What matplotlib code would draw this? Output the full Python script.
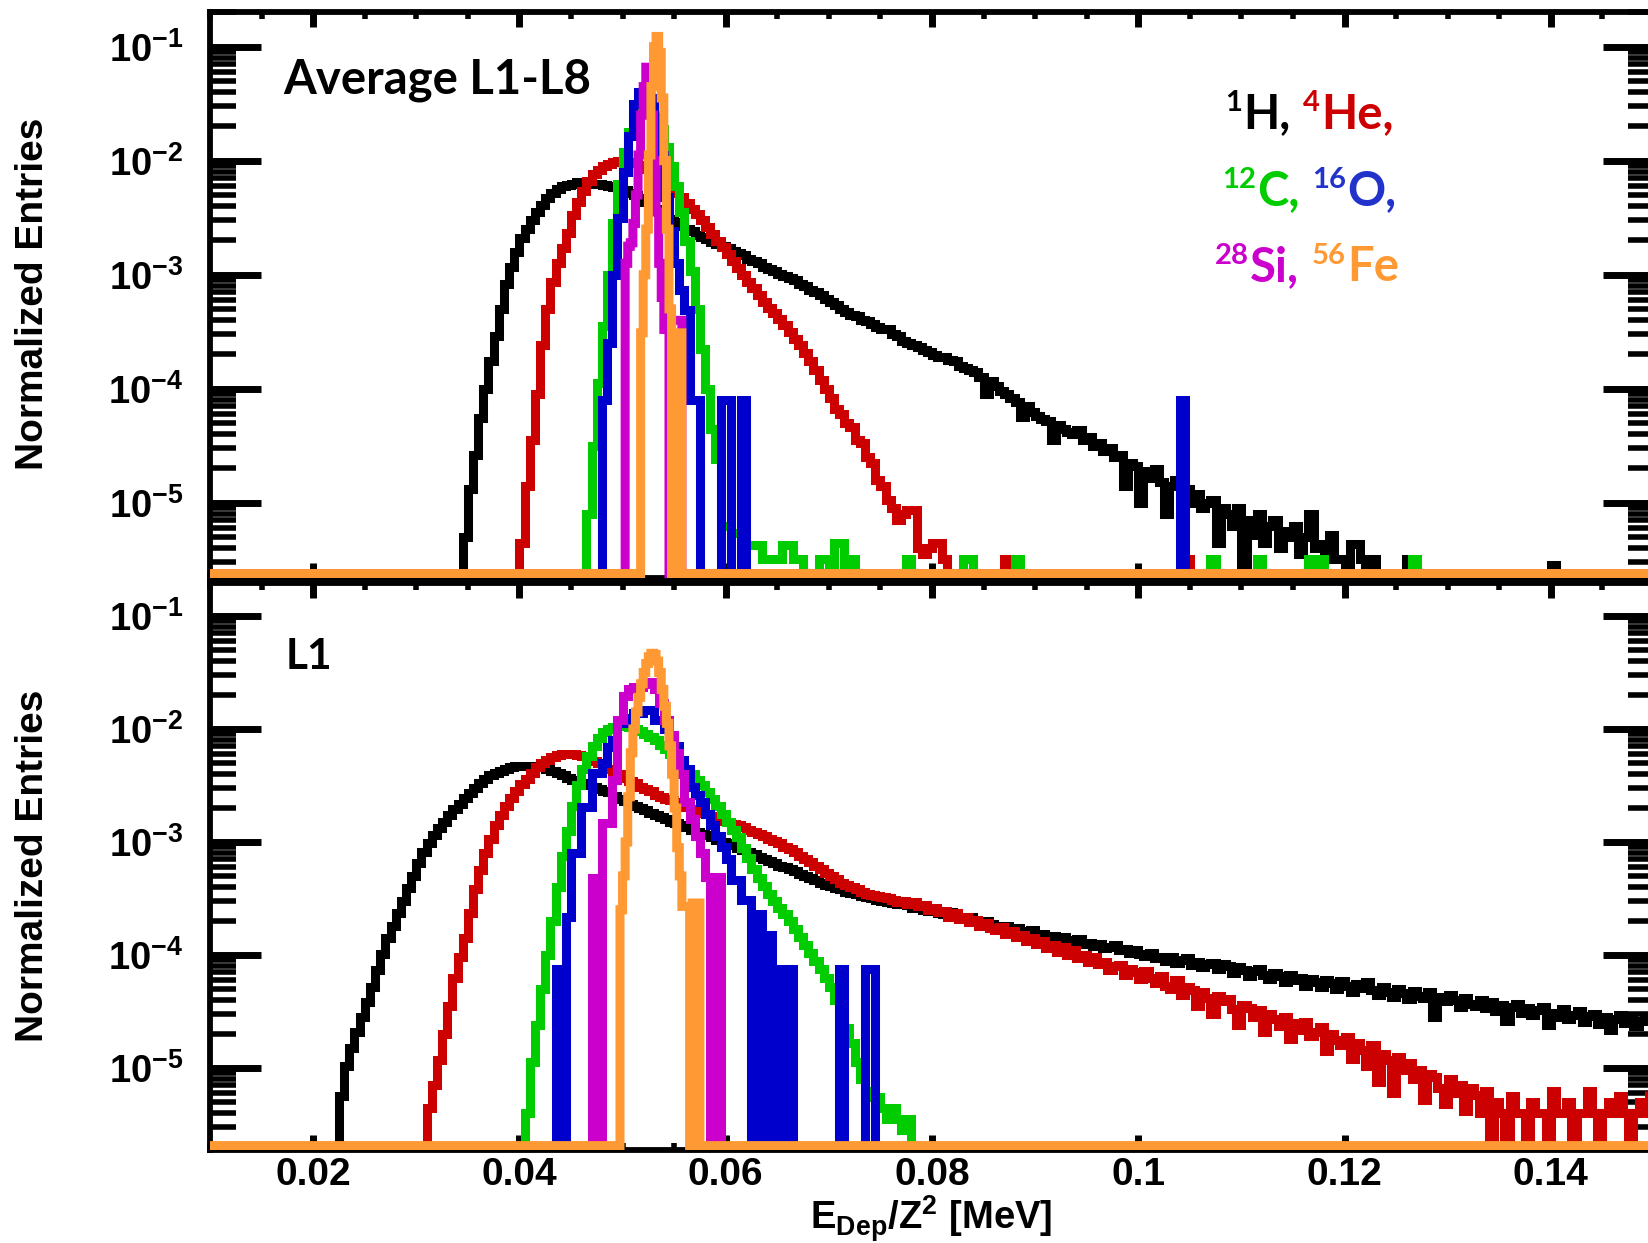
import numpy as np
import matplotlib
matplotlib.use("Agg")
import matplotlib.pyplot as plt
from matplotlib.ticker import FixedLocator, MultipleLocator, LogLocator, FuncFormatter, NullFormatter

# bin widths [MeV]
BW = 0.0005
BW_FINE = 0.00025

# ---------------- Average L1-L8 (top panel) ----------------
# values are log10(normalized entries) per bin, None = empty bin
h_avg_x0 = 0.0345
h_avg_log = [
    -5.30, -4.88, -4.58, -4.26, -4.00, -3.76, -3.54, -3.30, -3.08, -2.93,
    -2.80, -2.68, -2.60, -2.52, -2.45, -2.39, -2.33, -2.28, -2.25, -2.22,
    -2.21, -2.20, -2.19, -2.19, -2.19, -2.20, -2.20, -2.21, -2.22, -2.23,
    -2.25, -2.26, -2.28, -2.30, -2.33, -2.36, -2.39, -2.42, -2.45, -2.48,
    -2.51, -2.54, -2.57, -2.60, -2.62, -2.65, -2.67, -2.69, -2.71, -2.73,
    -2.75, -2.77, -2.79, -2.81, -2.83, -2.86, -2.88, -2.90, -2.93, -2.95,
    -2.97, -2.99, -3.01, -3.03, -3.05, -3.08, -3.10, -3.13, -3.15, -3.18,
    -3.21, -3.24, -3.27, -3.30, -3.33, -3.35, -3.36, -3.40, -3.41, -3.43,
    -3.46, -3.48, -3.48, -3.52, -3.54, -3.58, -3.60, -3.62, -3.63, -3.66,
    -3.68, -3.70, -3.72, -3.72, -3.75, -3.76, -3.80, -3.82, -3.84, -3.85,
    -3.90, -4.05, -3.93, -3.98, -4.02, -4.05, -4.08, -4.12, -4.25, -4.15,
    -4.20, -4.24, -4.27, -4.28, -4.45, -4.32, -4.35, -4.38, -4.40, -4.36,
    -4.45, -4.42, -4.50, -4.48, -4.55, -4.52, -4.60, -4.58, -4.85, -4.65,
    -4.68, -5.00, -4.72, -4.78, -4.70, -4.82, -5.10, -4.85, -4.80, -4.95,
    -4.88, -5.00, -4.92, -5.05, -5.00, -4.98, -5.35, -5.05, -5.10, -5.20,
    -5.05, None, -5.15, -5.28, -5.10, -5.35, -5.20, -5.15, -5.40, -5.25,
    -5.30, -5.20, -5.45, -5.30, -5.10, -5.40, -5.36, -5.49, -5.28, -5.49,
    -5.49, None, -5.36, -5.36, -5.49, None, -5.49, None, None, None,
    None, None, None, -5.49,
]
h_avg_extra = [(0.1400, -5.55)]

he_avg_x0 = 0.0400
he_avg_log = [
    -5.35, -4.85, -4.45, -4.05, -3.62, -3.30, -3.06, -2.90, -2.77, -2.63,
    -2.48, -2.36, -2.27, -2.18, -2.12, -2.08, -2.05, -2.03, -2.01, -2.00,
    -2.00, -2.01, -2.02, -2.04, -2.07, -2.10, -2.13, -2.17, -2.20, -2.24,
    -2.28, -2.32, -2.37, -2.42, -2.47, -2.52, -2.58, -2.64, -2.70, -2.76,
    -2.82, -2.88, -2.94, -3.00, -3.06, -3.12, -3.18, -3.24, -3.29, -3.34,
    -3.39, -3.44, -3.50, -3.56, -3.62, -3.69, -3.76, -3.84, -3.92, -4.00,
    -4.08, -4.18, -4.22, -4.30, -4.34, -4.45, -4.48, -4.60, -4.65, -4.80,
    -4.85, -4.98, -5.05, -5.15, -5.10, -5.06, -5.06, -5.40, -5.45, -5.40,
    -5.35, -5.35, -5.49,
]
he_avg_extra = [(0.0870, -5.49), (0.1045, -5.49)]

c_avg_x0 = 0.0465
c_avg_log = [
    -5.10, -4.50, -3.95, -3.45, -3.00, -2.55, -2.20, -1.92, -1.75, -1.62,
    -1.55, -1.52, -1.53, -1.60, -1.72, -1.88, -2.05, -2.22, -2.45, -2.70,
    -2.97, -3.30, -3.65, -4.00, -4.35, -4.62, -5.20, -5.20, -5.27, -5.27,
    -5.27, -5.37, -5.37, -5.37, -5.49, -5.49, -5.49, -5.49, -5.37, -5.37,
    -5.49, -5.49,
]
c_avg_extra = [(0.0690, -5.49), (0.0695, -5.49), (0.0705, -5.35), (0.0710, -5.35),
               (0.0720, -5.49), (0.0775, -5.49), (0.0830, -5.49), (0.0835, -5.49),
               (0.0880, -5.49), (0.1070, -5.49), (0.1115, -5.49), (0.1165, -5.49),
               (0.1175, -5.49), (0.1265, -5.49)]

o_avg_x0 = 0.0480
o_avg_log = [
    -4.10, -3.60, -3.00, -2.50, -2.10, -1.78, -1.50, -1.40, -1.37, -1.45,
    -1.62, -1.95, -2.32, -2.62, -2.90, -3.13, -3.31, -4.10, -4.10, None,
    None, None, None, -4.10, -4.10, None, None, -4.10,
]
o_avg_extra = [(0.1040, -4.10)]

si_avg_x0 = 0.05025
si_avg_log = [
    -2.90, -2.75, -2.72, -2.55, -2.30, -1.95, -1.60, -1.35, -1.18, -1.25,
    -1.60, -2.00, -2.45, -2.90, -3.20, -3.48, -3.48, None, -3.40, -3.40,
    -3.40, -3.40,
]

fe_avg_x0 = 0.05175
fe_avg_log = [
    -3.51, -3.00, -2.60, -1.95, -1.35, -1.00, -0.91, -1.05, -1.45, -2.00,
    -2.60, -3.30, None, None, None, -3.51,
]

# ---------------- L1 (bottom panel) ----------------
h_l1_x0 = 0.0225
h_l1_log = [
    -5.25, -4.98, -4.82, -4.68, -4.55, -4.42, -4.28, -4.13, -3.99, -3.85,
    -3.74, -3.63, -3.52, -3.41, -3.30, -3.19, -3.09, -3.01, -2.94, -2.88,
    -2.82, -2.76, -2.71, -2.66, -2.61, -2.57, -2.52, -2.48, -2.44, -2.41,
    -2.39, -2.37, -2.35, -2.34, -2.33, -2.33, -2.33, -2.33, -2.33, -2.34,
    -2.35, -2.37, -2.39, -2.41, -2.43, -2.45, -2.46, -2.48, -2.50, -2.51,
    -2.53, -2.55, -2.56, -2.59, -2.62, -2.64, -2.66, -2.68, -2.70, -2.72,
    -2.74, -2.76, -2.78, -2.80, -2.82, -2.83, -2.85, -2.87, -2.89, -2.91,
    -2.93, -2.94, -2.96, -2.98, -3.00, -3.01, -3.03, -3.05, -3.07, -3.09,
    -3.11, -3.13, -3.15, -3.17, -3.19, -3.21, -3.22, -3.24, -3.26, -3.28,
    -3.30, -3.32, -3.34, -3.36, -3.38, -3.39, -3.41, -3.42, -3.44, -3.45,
    -3.46, -3.48, -3.49, -3.50, -3.51, -3.52, -3.53, -3.54, -3.55, -3.55,
    -3.56, -3.58, -3.57, -3.60, -3.61, -3.60, -3.63, -3.64, -3.62, -3.66,
    -3.67, -3.68, -3.66, -3.70, -3.71, -3.70, -3.73, -3.74, -3.76, -3.74,
    -3.77, -3.76, -3.79, -3.80, -3.78, -3.82, -3.81, -3.84, -3.83, -3.86,
    -3.84, -3.87, -3.88, -3.86, -3.90, -3.89, -3.92, -3.90, -3.94, -3.93,
    -3.91, -3.96, -3.95, -3.98, -3.96, -3.99, -4.01, -3.98, -4.03, -4.02,
    -4.05, -4.02, -4.07, -4.04, -4.03, -4.09, -4.06, -4.11, -4.08, -4.07,
    -4.12, -4.08, -4.10, -4.16, -4.11, -4.13, -4.19, -4.14, -4.12, -4.18,
    -4.21, -4.16, -4.19, -4.24, -4.18, -4.22, -4.20, -4.27, -4.21, -4.24,
    -4.28, -4.22, -4.25, -4.30, -4.23, -4.27, -4.33, -4.26, -4.29, -4.24,
    -4.31, -4.35, -4.28, -4.33, -4.37, -4.30, -4.34, -4.39, -4.32, -4.36,
    -4.38, -4.33, -4.55, -4.37, -4.41, -4.35, -4.40, -4.46, -4.38, -4.43,
    -4.45, -4.40, -4.47, -4.42, -4.50, -4.44, -4.58, -4.46, -4.43, -4.51,
    -4.47, -4.53, -4.49, -4.46, -4.62, -4.51, -4.55, -4.48, -4.57, -4.53,
    -4.50, -4.59, -4.54, -4.52, -4.61, -4.55, -4.66, -4.57, -4.53, -4.60,
    -4.56, -4.63, -4.58, -4.54, -4.62,
]

he_l1_x0 = 0.0310
he_l1_log = [
    -5.35, -5.15, -4.93, -4.70, -4.45, -4.20, -4.02, -3.85, -3.63, -3.42,
    -3.25, -3.10, -2.97, -2.85, -2.76, -2.68, -2.61, -2.55, -2.49, -2.44,
    -2.39, -2.34, -2.30, -2.27, -2.25, -2.23, -2.22, -2.22, -2.22, -2.23,
    -2.24, -2.26, -2.28, -2.30, -2.32, -2.35, -2.37, -2.40, -2.43, -2.46,
    -2.48, -2.51, -2.53, -2.55, -2.58, -2.60, -2.62, -2.63, -2.65, -2.67,
    -2.69, -2.71, -2.72, -2.74, -2.75, -2.77, -2.79, -2.81, -2.82, -2.84,
    -2.85, -2.87, -2.89, -2.91, -2.93, -2.95, -2.97, -2.99, -3.01, -3.04,
    -3.06, -3.09, -3.12, -3.15, -3.18, -3.21, -3.24, -3.27, -3.30, -3.33,
    -3.36, -3.38, -3.40, -3.42, -3.44, -3.46, -3.47, -3.48, -3.49, -3.50,
    -3.51, -3.53, -3.52, -3.55, -3.53, -3.57, -3.56, -3.60, -3.58, -3.62,
    -3.61, -3.66, -3.63, -3.68, -3.66, -3.71, -3.69, -3.74, -3.72, -3.76,
    -3.78, -3.75, -3.81, -3.79, -3.84, -3.82, -3.88, -3.85, -3.90, -3.88,
    -3.94, -3.91, -3.97, -3.93, -4.00, -3.96, -4.03, -4.00, -4.06, -4.02,
    -4.08, -4.06, -4.13, -4.10, -4.09, -4.18, -4.12, -4.15, -4.21, -4.14,
    -4.20, -4.25, -4.19, -4.27, -4.30, -4.22, -4.35, -4.28, -4.31, -4.45,
    -4.33, -4.38, -4.52, -4.36, -4.41, -4.39, -4.48, -4.62, -4.44, -4.47,
    -4.55, -4.49, -4.68, -4.52, -4.57, -4.63, -4.55, -4.74, -4.60, -4.66,
    -4.59, -4.72, -4.68, -4.64, -4.85, -4.70, -4.75, -4.80, -4.73, -4.92,
    -4.78, -4.84, -4.98, -4.80, -5.12, -4.88, -4.93, -5.22, -4.90, -5.02,
    -4.96, -5.10, -5.02, -5.28, -5.05, -5.08, -5.18, -5.32, -5.10, -5.22,
    -5.15, -5.38, -5.18, -5.24, -5.40, -5.20, None, -5.30, -5.40, None,
    -5.25, -5.40, -5.40, None, -5.30, -5.40, -5.40, None, -5.20, -5.40,
    -5.40, -5.30, None, -5.40, -5.40, -5.20, -5.40, None, -5.40, -5.30,
    -5.40, -5.25, -5.40, None, -5.40, -5.30, -5.40, -5.20,
]

c_l1_x0 = 0.0405
c_l1_log = [
    -5.40, -4.95, -4.62, -4.30, -4.00, -3.70, -3.40, -3.12, -2.90, -2.68,
    -2.50, -2.35, -2.24, -2.15, -2.08, -2.03, -2.00, -1.98, -1.97, -1.97,
    -1.98, -2.00, -2.02, -2.04, -2.07, -2.10, -2.14, -2.18, -2.22, -2.26,
    -2.30, -2.35, -2.40, -2.45, -2.50, -2.56, -2.62, -2.68, -2.75, -2.82,
    -2.89, -2.96, -3.05, -3.14, -3.24, -3.32, -3.39, -3.46, -3.52, -3.58,
    -3.64, -3.70, -3.77, -3.84, -3.91, -3.98, -4.05, -4.12, -4.20, -4.28,
    -4.40, -4.52, -4.65, -4.78, -4.95, -5.10, -5.20, -5.26, -5.26, -5.35,
    -5.45, -5.35, -5.45, -5.55, -5.45,
]

o_l1_x0 = 0.0435
o_l1_log = [
    -4.12, None, -3.66, -3.10, -3.10, -2.69, -2.69, -2.39, -2.39, -2.30,
    -2.16, -2.10, -1.95, -1.95, -1.90, -1.86, -1.86, -1.83, -1.83, -1.92,
    -1.92, -2.00, -2.07, -2.15, -2.27, -2.35, -2.51, -2.58, -2.65, -2.75,
    -2.85, -2.95, -3.04, -3.15, -3.34, -3.34, -3.51, -3.51, None, -3.64,
    None, -3.82, None, -4.12, None, -4.12,
]
o_l1_extra = [(0.0710, -4.12), (0.0735, -4.12), (0.0740, -4.12)]

si_l1_x0 = 0.0470
si_l1_log = [
    -3.32, None, -2.83, -2.83, -2.45, -1.92, -1.71, -1.65, -1.63, -1.63,
    -1.60, -1.58, -1.65, -1.77, -1.92, -2.05, -2.21, -2.40, -2.65, -2.80,
    -2.95, -3.10, -3.31, None, -3.31,
]

fe_l1_x0 = 0.04975
fe_l1_log = [
    -3.60, -3.30, -3.00, -2.60, -2.21, -2.00, -1.85, -1.72, -1.60, -1.50,
    -1.42, -1.36, -1.33, -1.34, -1.40, -1.50, -1.65, -1.80, -1.95, -2.15,
    -2.40, -2.70, -3.05, -3.30, -3.57, -3.57, -3.57, None, -3.54, -3.54,
    -3.54,
]

x_ticks = [0.02, 0.04, 0.06, 0.08, 0.10, 0.12, 0.14]

# ---------------- style ----------------
C_H, C_HE, C_C, C_O, C_SI, C_FE = "#000000", "#cc0000", "#00cc00", "#0000cc", "#cc00cc", "#ff9933"
C_O_TXT = "#2233cc"

W, H, DPI = 1649, 1243, 100
XMIN, XMAX = 0.01, 0.15
LEFT_PX, RIGHT_PX = 210, 1654
LW = 6.5

plt.rcParams["font.family"] = ["Liberation Sans", "DejaVu Sans"]
plt.rcParams["font.weight"] = "bold"
plt.rcParams["mathtext.fontset"] = "custom"
plt.rcParams["mathtext.rm"] = "Liberation Sans:bold"
plt.rcParams["mathtext.bf"] = "Liberation Sans:bold"
plt.rcParams["mathtext.it"] = "Liberation Sans:bold"


def build(x0, bw, logs, extra, floor_log):
    # full histogram over the x range, empty bins sit on the floor
    n = int(round((XMAX - XMIN) / bw))
    edges = XMIN + bw * np.arange(n + 1)
    y = np.full(n, floor_log)
    i0 = int(round((x0 - XMIN) / bw))
    for k, v in enumerate(logs):
        if v is not None:
            y[i0 + k] = v
    for xe, v in extra:
        y[int(round((xe - XMIN) / bw))] = v
    return edges, 10.0 ** y


def setup_axes(ax, ylog_lo, ylog_hi, show_xlabels):
    ax.set_yscale("log")
    ax.set_xlim(XMIN, XMAX)
    ax.set_ylim(10 ** ylog_lo, 10 ** ylog_hi)
    ax.xaxis.set_major_locator(FixedLocator(x_ticks))
    ax.xaxis.set_minor_locator(MultipleLocator(0.005))
    ax.yaxis.set_major_locator(LogLocator(base=10, numticks=30))
    ax.yaxis.set_minor_locator(LogLocator(base=10, subs=np.arange(2, 10), numticks=30))
    ax.yaxis.set_minor_formatter(NullFormatter())
    ax.yaxis.set_major_formatter(FuncFormatter(
        lambda v, p: r"$\mathbf{10^{%d}}$" % int(round(np.log10(v)))))
    ax.xaxis.set_major_formatter(FuncFormatter(lambda v, p: "%g" % v))
    ax.tick_params(axis="x", which="major", direction="in", length=11, width=5,
                   top=True, bottom=True, labelsize=28, pad=5, labelbottom=show_xlabels)
    ax.tick_params(axis="x", which="minor", direction="in", length=5, width=4,
                   top=True, bottom=True)
    ax.tick_params(axis="y", which="major", direction="in", length=37, width=5,
                   left=True, right=True, labelsize=27.5, pad=19)
    ax.tick_params(axis="y", which="minor", direction="in", length=19, width=4,
                   left=True, right=True)
    for s in ax.spines.values():
        s.set_linewidth(4.2)
        s.set_zorder(1)
    ax.set_axisbelow(True)


def draw_panel(ax, series, ylog_lo):
    floor_log = ylog_lo + 0.039
    for x0, bw, logs, extra, col in series:
        edges, vals = build(x0, bw, logs, extra, floor_log)
        ax.stairs(vals, edges, baseline=None, color=col, lw=LW, zorder=3, joinstyle="miter")


fig = plt.figure(figsize=(W / DPI, H / DPI), dpi=DPI)


def px_axes(top_px, bottom_px):
    return fig.add_axes([LEFT_PX / W, 1 - bottom_px / H,
                         (RIGHT_PX - LEFT_PX) / W, (bottom_px - top_px) / H])


ax_top = px_axes(11.5, 578)
ax_bot = px_axes(583, 1150)

TOP_LO, TOP_HI = -5.6605, -0.6912
BOT_LO, BOT_HI = -5.7257, -0.708

setup_axes(ax_top, TOP_LO, TOP_HI, False)
setup_axes(ax_bot, BOT_LO, BOT_HI, True)

top_series = [
    (h_avg_x0, BW, h_avg_log, h_avg_extra, C_H),
    (he_avg_x0, BW, he_avg_log, he_avg_extra, C_HE),
    (c_avg_x0, BW, c_avg_log, c_avg_extra, C_C),
    (o_avg_x0, BW, o_avg_log, o_avg_extra, C_O),
    (si_avg_x0, BW_FINE, si_avg_log, [], C_SI),
    (fe_avg_x0, BW_FINE, fe_avg_log, [], C_FE),
]
bot_series = [
    (h_l1_x0, BW, h_l1_log, [], C_H),
    (he_l1_x0, BW, he_l1_log, [], C_HE),
    (c_l1_x0, BW, c_l1_log, [], C_C),
    (o_l1_x0, BW, o_l1_log, o_l1_extra, C_O),
    (si_l1_x0, BW, si_l1_log, [], C_SI),
    (fe_l1_x0, BW_FINE, fe_l1_log, [], C_FE),
]
draw_panel(ax_top, top_series, TOP_LO)
draw_panel(ax_bot, bot_series, BOT_LO)

# axis titles
for yc in (294, 866):
    fig.text(33 / W, 1 - yc / H, "Normalized Entries", rotation=90, ha="center",
             va="center", fontsize=28)
fig.text(931 / W, 1 - 1230 / H, r"$\mathbf{E_{Dep}/Z^{2}}$ [MeV]", ha="center",
         va="baseline", fontsize=27.5)

# panel labels
fig.text(283 / W, 1 - 94 / H, "Average L1-L8", family="Lato", weight="bold",
         fontsize=34, va="baseline")
fig.text(286 / W, 1 - 669 / H, "L1", family="Lato", weight="bold",
         fontsize=30.5, va="baseline")

# isotope labels (superscript mass number + element), placed piece by piece
legend_lines = [
    (1225, 128, [("1", "H,", C_H), ("4", "He,", C_HE)]),
    (1222, 205, [("12", "C,", C_C), ("16", "O,", C_O_TXT)]),
    (1215, 281, [("28", "Si,", C_SI), ("56", "Fe", C_FE)]),
]
renderer = fig.canvas.get_renderer()
FS = 34
for x, yb, parts in legend_lines:
    for sup, main, col in parts:
        t = fig.text(x / W, 1 - (yb - 17) / H, sup, family="Lato", weight="bold",
                     fontsize=FS * 0.62, color=col, va="baseline")
        x = t.get_window_extent(renderer).x1 + 1
        t = fig.text(x / W, 1 - yb / H, main, family="Lato", weight="bold",
                     fontsize=FS, color=col, va="baseline")
        x = t.get_window_extent(renderer).x1 + 13

fig.savefig("out.png", dpi=DPI, facecolor="white")
